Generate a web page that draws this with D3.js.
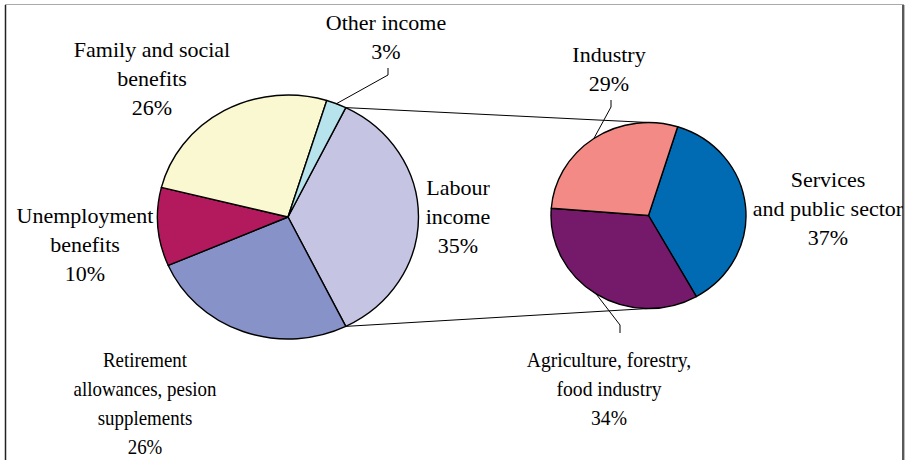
<!DOCTYPE html>
<html>
<head>
<meta charset="utf-8">
<script src="https://cdn.jsdelivr.net/npm/d3@7"></script>
<style>
  body { margin: 0; background: #fff; }
  svg { display: block; }
  text.label { font-family: "Liberation Serif"; }
</style>
</head>
<body>
<svg id="chart"></svg>
<script>
// main pie: income sources
var mainNames = ["Labour income", "Retirement allowances, pesion supplements", "Unemployment benefits", "Family and social benefits", "Other income"];
var mainValues = [35.4, 25.8, 10.4, 25.9, 2.5];
var mainColors = ["#c5c5e3", "#8692c8", "#b31a5e", "#faf8d0", "#b6e3ec"];

// secondary pie: labour income split by sector
var subNames = ["Services and public sector", "Agriculture, forestry, food industry", "Industry"];
var subValues = [37.0, 34.4, 28.6];
var subColors = ["#006bb3", "#751a6a", "#f38a85"];

var width = 907, height = 460;
var svg = d3.select("#chart")
    .attr("width", width)
    .attr("height", height);

var fontSize = 22;
var lineH = 29;

// frame
svg.append("clipPath").attr("id", "frame-clip")
    .append("rect").attr("x", 5).attr("y", 5).attr("width", 898).attr("height", 460);

svg.append("line").attr("x1", 5).attr("x2", 904).attr("y1", 4.5).attr("y2", 4.5)
    .attr("stroke", "#aaa").attr("stroke-width", 1);
svg.append("line").attr("x1", 5.5).attr("x2", 5.5).attr("y1", 5).attr("y2", height)
    .attr("stroke", "#222").attr("stroke-width", 1.5);
svg.append("line").attr("x1", 903).attr("x2", 903).attr("y1", 5).attr("y2", height)
    .attr("stroke", "#222").attr("stroke-width", 1.5);
svg.append("line").attr("x1", 904.5).attr("x2", 904.5).attr("y1", 5).attr("y2", height)
    .attr("stroke", "#bbb").attr("stroke-width", 1);

var g = svg.append("g").attr("clip-path", "url(#frame-clip)");

var main = {cx: 288, cy: 217, rx: 130.5, ry: 122};
var sub = {cx: 648.5, cy: 215.5, rx: 97.5, ry: 93};

// labour slice centred on 3 o'clock, as in pie-of-pie
var labourAngle = mainValues[0] / d3.sum(mainValues) * 2 * Math.PI;
var mainPie = d3.pie().sort(null).value(function(d) { return d; })
    .startAngle(Math.PI / 2 - labourAngle / 2)
    .endAngle(Math.PI / 2 - labourAngle / 2 + 2 * Math.PI);
var subStart = 17.4 * Math.PI / 180;
var subPie = d3.pie().sort(null).value(function(d) { return d; })
    .startAngle(subStart)
    .endAngle(subStart + 2 * Math.PI);

var mainArcs = mainPie(mainValues);
var subArcs = subPie(subValues);

function edgePoint(p, a) {
    return [p.cx + p.rx * Math.sin(a), p.cy - p.ry * Math.cos(a)];
}

// connector lines between the pies
var labourArc = mainArcs[0];
var conn = [
    [edgePoint(main, labourArc.startAngle), [sub.cx, sub.cy - sub.ry]],
    [edgePoint(main, labourArc.endAngle), [sub.cx, sub.cy + sub.ry]]
];
g.selectAll(".connector")
    .data(conn)
    .enter().append("line")
    .attr("class", "connector")
    .attr("x1", function(d) { return d[0][0]; })
    .attr("y1", function(d) { return d[0][1]; })
    .attr("x2", function(d) { return d[1][0]; })
    .attr("y2", function(d) { return d[1][1]; })
    .attr("stroke", "#000")
    .attr("stroke-width", 1);

function drawPie(p, arcs, colors) {
    var arc = d3.arc().innerRadius(0).outerRadius(p.rx);
    var pg = g.append("g")
        .attr("transform", "translate(" + p.cx + "," + p.cy + ") scale(1," + (p.ry / p.rx) + ")");
    pg.selectAll("path")
        .data(arcs)
        .enter().append("path")
        .attr("d", arc)
        .attr("fill", function(d, i) { return colors[i]; })
        .attr("stroke", "#000")
        .attr("stroke-width", 1.4)
        .attr("stroke-linejoin", "round")
        .attr("vector-effect", "non-scaling-stroke");
}
drawPie(main, mainArcs, mainColors);
drawPie(sub, subArcs, subColors);

// label layout: lines, centre x, first baseline, horizontal squeeze
var mainLabels = [
    {lines: ["Labour", "income"], x: 458, y: 195},
    {lines: ["Retirement", "allowances, pesion", "supplements"], x: 145, y: 367, sx: 0.86},
    {lines: ["Unemployment", "benefits"], x: 85, y: 223},
    {lines: ["Family and social", "benefits"], x: 152, y: 57},
    {lines: ["Other income"], x: 386, y: 30}
];
var subLabels = [
    {lines: ["Services", "and public sector"], x: 828, y: 187},
    {lines: ["Agriculture, forestry,", "food industry"], x: 609, y: 367, sx: 0.89},
    {lines: ["Industry"], x: 609, y: 62}
];

function pct(values, i) {
    return Math.round(values[i] / d3.sum(values) * 100) + "%";
}

function drawLabels(labels, values) {
    labels.forEach(function(l, i) {
        var lines = l.lines.concat([pct(values, i)]);
        var sx = l.sx || 1;
        var t = g.append("text")
            .attr("class", "label")
            .attr("text-anchor", "middle")
            .attr("font-size", fontSize)
            .attr("fill", "#000")
            .attr("transform", "translate(" + l.x + ",0) scale(" + sx + ",1)");
        lines.forEach(function(s, j) {
            t.append("tspan")
                .attr("x", 0)
                .attr("y", l.y + j * lineH)
                .text(s);
        });
    });
}
drawLabels(mainLabels, mainValues);
drawLabels(subLabels, subValues);

// leader lines for labels sitting off their slice
function midAngle(d) { return (d.startAngle + d.endAngle) / 2; }
function leader(p, d, label, nLines, below) {
    var s = edgePoint(p, midAngle(d));
    var lx = label.x + (below ? 11 : 2);
    var pts;
    if (below) {
        var top = label.y - 34;
        pts = [s, [lx, top - 8], [lx, top]];
    } else {
        var base = label.y + (nLines - 1) * lineH;
        pts = [s, [lx, base + 16], [lx, base + 9]];
    }
    g.append("path")
        .attr("d", d3.line()(pts))
        .attr("fill", "none")
        .attr("stroke", "#000")
        .attr("stroke-width", 1);
}
leader(main, mainArcs[4], mainLabels[4], 2, false);
leader(sub, subArcs[2], subLabels[2], 2, false);
leader(sub, subArcs[1], subLabels[1], 3, true);
</script>
</body>
</html>
